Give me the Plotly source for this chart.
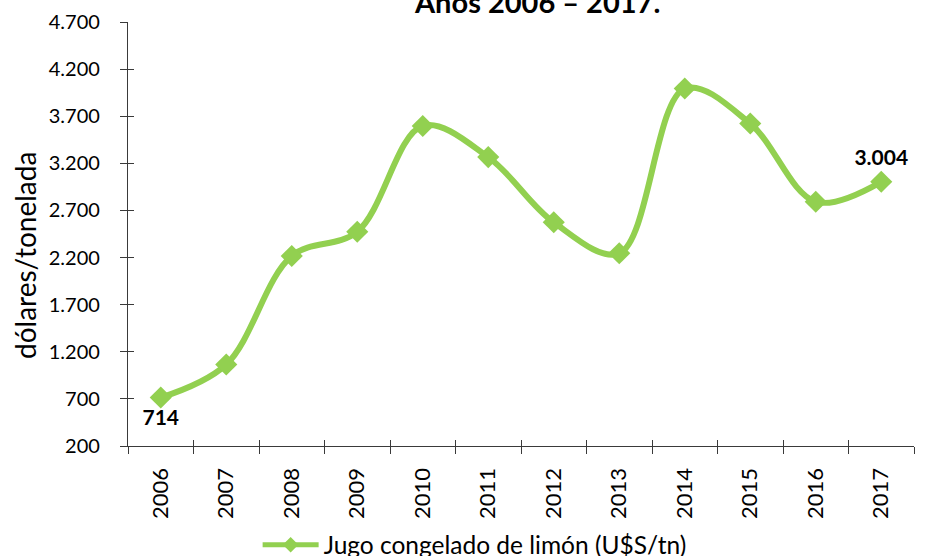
import plotly.graph_objects as go

years = ["2006", "2007", "2008", "2009", "2010", "2011", "2012", "2013", "2014", "2015", "2016", "2017"]
prices = [714, 1065, 2217, 2474, 3597, 3266, 2574, 2245, 3994, 3622, 2792, 3004]
labeled = [True, False, False, False, False, False, False, False, False, False, False, True]
series_name = "Jugo congelado de limón (U$S/tn)"
title_text = "Años 2006 – 2017."
y_title = "dólares/tonelada"
y_ticks = [200, 700, 1200, 1700, 2200, 2700, 3200, 3700, 4200, 4700]

GREEN = "#92D050"
FONT = "Lato"
AX = "#3a3a3a"

def fmt(v):
    return f"{v:,}".replace(",", ".")

labels = [fmt(v) if f else "" for v, f in zip(prices, labeled)]
positions = ["bottom center" if i == 0 else "top center" for i in range(len(prices))]

fig = go.Figure()
fig.add_trace(go.Scatter(
    x=years, y=prices, name=series_name,
    mode="lines+markers+text",
    line=dict(color=GREEN, width=6, shape="spline", smoothing=1.0),
    marker=dict(symbol="diamond", size=17, color=GREEN),
    text=labels, textposition=positions,
    textfont=dict(family=FONT, size=21, color="#000000", weight="bold"),
    cliponaxis=False,
))
# invisible trace to drive the second (crossing-tick) axes
fig.add_trace(go.Scatter(x=years, y=prices, xaxis="x2", yaxis="y2",
                         mode="markers", marker=dict(opacity=0),
                         showlegend=False, hoverinfo="skip"))

fig.update_layout(
    width=938, height=556,
    margin=dict(l=128, r=24, t=22, b=110, autoexpand=False),
    paper_bgcolor="white", plot_bgcolor="white",
    separators=",.",
    font=dict(family=FONT, size=20, color="#000000"),
    showlegend=True,
    legend=dict(orientation="h", xref="container", yref="container",
                x=0.506, y=0.02, xanchor="center", yanchor="middle",
                font=dict(family=FONT, size=24.5, color="#000000"),
                itemwidth=56, itemsizing="constant"),
    xaxis=dict(type="category", categoryorder="array", categoryarray=years,
               showline=True, linecolor=AX, linewidth=1.3,
               ticks="outside", ticklen=7, tickcolor=AX, tickwidth=1.3,
               tickson="boundaries", tickangle=-90,
               tickfont=dict(family=FONT, size=22),
               ticklabelstandoff=12,
               showgrid=False, zeroline=False, range=[-0.5, 11.5]),
    yaxis=dict(range=[200, 4700], tickvals=y_ticks, tickformat=",",
               showline=True, linecolor=AX, linewidth=1.3,
               ticks="outside", ticklen=7, tickcolor=AX, tickwidth=1.3,
               tickfont=dict(family=FONT, size=20),
               ticklabelstandoff=16,
               showgrid=False, zeroline=False),
    xaxis2=dict(type="category", categoryorder="array", categoryarray=years,
                overlaying="x", range=[-0.5, 11.5], ticks="inside", ticklen=6,
                tickson="boundaries", tickcolor=AX, tickwidth=1.3,
                showticklabels=False, showline=False, showgrid=False,
                zeroline=False),
    yaxis2=dict(overlaying="y", range=[200, 4700], tickvals=y_ticks,
                ticks="inside", ticklen=6, tickcolor=AX, tickwidth=1.3,
                showticklabels=False, showline=False, showgrid=False,
                zeroline=False),
    annotations=[
        dict(text=title_text, xref="paper", yref="paper",
             x=(537 - 128) / 786, y=(446 - 21) / 424, xanchor="center", yanchor="bottom",
             showarrow=False,
             font=dict(family=FONT, size=29, color="#000000", weight="bold")),
        dict(text=y_title, xref="paper", yref="paper", textangle=-90,
             x=(25 - 128) / 786, y=(446 - 256) / 424, xanchor="center", yanchor="middle",
             showarrow=False, font=dict(family=FONT, size=28, color="#000000")),
    ],
)

fig.write_html("out.html", config={"displayModeBar": False},
               post_script="document.body.style.margin='0';document.body.style.padding='0';")
